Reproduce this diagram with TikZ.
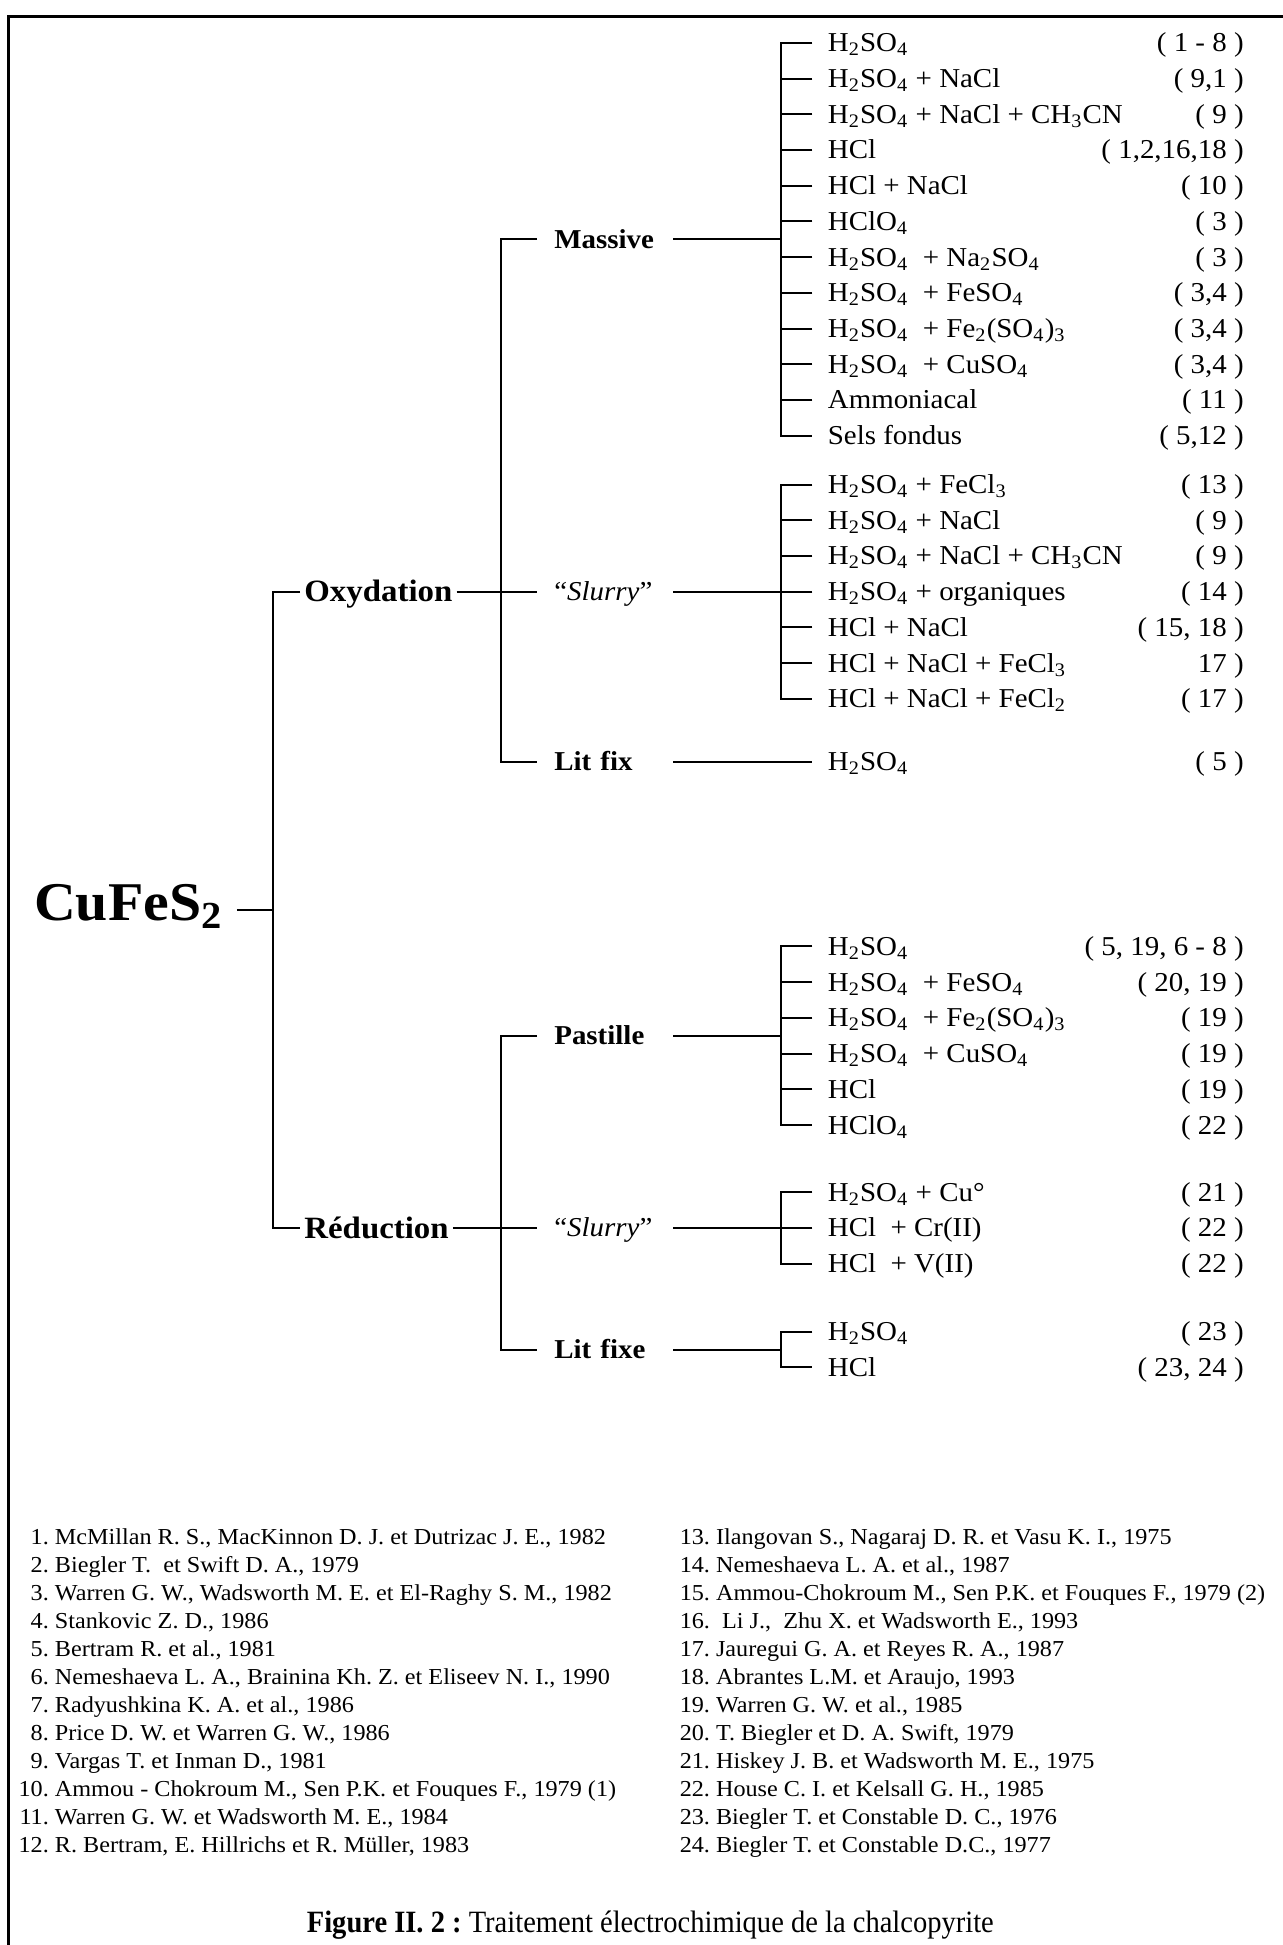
\documentclass[tikz,border=0pt]{standalone}
\usepackage{fontspec}
\setmainfont{Liberation Serif}[FakeStretch=1.06]
\newfontfamily\capfont{Liberation Serif}[FakeStretch=0.92]
\usepackage{tikz}
\usetikzlibrary{positioning}
\newcommand{\indx}[1]{\textsubscript{#1}}
\newcommand{\hso}{H\indx{2}SO\indx{4}}
\newcommand{\fnum}[1]{\makebox[12.5pt][r]{#1.}\ }
\frenchspacing

\begin{document}
\begin{tikzpicture}[x=0.5pt,y=-0.5pt,node distance=14.4pt,
    tree/.style={line width=0.8pt},
    frame/.style={line width=1.2pt},
    root/.style={anchor=east,inner xsep=5.5pt,inner ysep=0pt,text height=8pt,
      text depth=0pt,font=\fontsize{22}{26}\selectfont\bfseries},
    main node/.style={anchor=west,inner xsep=1.5pt,inner ysep=0pt,text height=8.2pt,
      text depth=0pt,font=\fontsize{12.5}{15}\selectfont\bfseries},
    sub node/.style={anchor=west,inner xsep=6.75pt,inner ysep=0pt,text width=41pt,
      align=left,text height=7.2pt,text depth=0pt,font=\fontsize{11}{13}\selectfont\bfseries},
    row/.style={anchor=west,inner xsep=6pt,inner ysep=0pt,text height=7.2pt,
      text depth=0pt,font=\fontsize{11}{13}\selectfont},
    refn/.style={row,anchor=east,inner xsep=0pt},
    nextrow/.style={below=of #1.west,anchor=west},
    fn/.style={anchor=base west,inner sep=0pt,font=\fontsize{9.2}{11}\selectfont},
    nextfn/.style={below=11.3pt of #1.base west,anchor=base west}
    ]
  \useasboundingbox (0,0) rectangle (1034,1568);
  \draw[frame] (1034,13) -- (6.5,13) -- (6.5,1568);

  % tree
  \node[root] (cu) at (191,734) {CuFeS\indx{2}};
  \coordinate (trunk) at (220,734);
  \node[main node] (ox) at (242,477) {Oxydation};
  \node[main node] (red) at (242,990) {Réduction};

  \coordinate (b1) at (404,477);
  \coordinate (b2) at (404,990);
  \node[sub node] (mas) at (433,193) {Massive};
  \node[sub node] (sl1) at (433,477) {\mdseries “\textit{Slurry}”};
  \node[sub node] (lit1) at (433,614) {Lit fix};
  \node[sub node] (pas) at (433,835) {Pastille};
  \node[sub node] (sl2) at (433,990) {\mdseries “\textit{Slurry}”};
  \node[sub node] (lit2) at (433,1088) {Lit fixe};

  \coordinate (mb) at (630,193);
  \coordinate (sb1) at (630,477);
  \coordinate (pb) at (630,835);
  \coordinate (sb2) at (630,990);
  \coordinate (lb) at (630,1088);
  \coordinate (rx) at (1003,0);

  % Massive
  \node[row] (m1) at (655,34.5) {\hso};
  \node[row,nextrow=m1] (m2) {\hso{} + NaCl};
  \node[row,nextrow=m2] (m3) {\hso{} + NaCl + CH\indx{3}CN};
  \node[row,nextrow=m3] (m4) {HCl};
  \node[row,nextrow=m4] (m5) {HCl + NaCl};
  \node[row,nextrow=m5] (m6) {HClO\indx{4}};
  \node[row,nextrow=m6] (m7) {\hso\ \ + Na\indx{2}SO\indx{4}};
  \node[row,nextrow=m7] (m8) {\hso\ \ + FeSO\indx{4}};
  \node[row,nextrow=m8] (m9) {\hso\ \ + Fe\indx{2}(SO\indx{4})\indx{3}};
  \node[row,nextrow=m9] (m10) {\hso\ \ + CuSO\indx{4}};
  \node[row,nextrow=m10] (m11) {Ammoniacal};
  \node[row,nextrow=m11] (m12) {Sels fondus};
  \node[refn] (rm1) at (m1 -| rx) {( 1 - 8 )};
  \node[refn] (rm2) at (m2 -| rx) {( 9,1 )};
  \node[refn] (rm3) at (m3 -| rx) {( 9 )};
  \node[refn] (rm4) at (m4 -| rx) {( 1,2,16,18 )};
  \node[refn] (rm5) at (m5 -| rx) {( 10 )};
  \node[refn] (rm6) at (m6 -| rx) {( 3 )};
  \node[refn] (rm7) at (m7 -| rx) {( 3 )};
  \node[refn] (rm8) at (m8 -| rx) {( 3,4 )};
  \node[refn] (rm9) at (m9 -| rx) {( 3,4 )};
  \node[refn] (rm10) at (m10 -| rx) {( 3,4 )};
  \node[refn] (rm11) at (m11 -| rx) {( 11 )};
  \node[refn] (rm12) at (m12 -| rx) {( 5,12 )};

  % Slurry (oxydation)
  \node[row] (s1) at (655,390.6) {\hso{} + FeCl\indx{3}};
  \node[row,nextrow=s1] (s2) {\hso{} + NaCl};
  \node[row,nextrow=s2] (s3) {\hso{} + NaCl + CH\indx{3}CN};
  \node[row,nextrow=s3] (s4) {\hso{} + organiques};
  \node[row,nextrow=s4] (s5) {HCl + NaCl};
  \node[row,nextrow=s5] (s6) {HCl + NaCl + FeCl\indx{3}};
  \node[row,nextrow=s6] (s7) {HCl + NaCl + FeCl\indx{2}};
  \node[refn] (rs1) at (s1 -| rx) {( 13 )};
  \node[refn] (rs2) at (s2 -| rx) {( 9 )};
  \node[refn] (rs3) at (s3 -| rx) {( 9 )};
  \node[refn] (rs4) at (s4 -| rx) {( 14 )};
  \node[refn] (rs5) at (s5 -| rx) {( 15, 18 )};
  \node[refn] (rs6) at (s6 -| rx) {17 )};
  \node[refn] (rs7) at (s7 -| rx) {( 17 )};

  % Lit fix
  \node[row] (l1) at (655,614) {\hso};
  \node[refn] (rl1) at (l1 -| rx) {( 5 )};

  % Pastille
  \node[row] (p1) at (655,763) {\hso};
  \node[row,nextrow=p1] (p2) {\hso\ \ + FeSO\indx{4}};
  \node[row,nextrow=p2] (p3) {\hso\ \ + Fe\indx{2}(SO\indx{4})\indx{3}};
  \node[row,nextrow=p3] (p4) {\hso\ \ + CuSO\indx{4}};
  \node[row,nextrow=p4] (p5) {HCl};
  \node[row,nextrow=p5] (p6) {HClO\indx{4}};
  \node[refn] (rp1) at (p1 -| rx) {( 5, 19, 6 - 8 )};
  \node[refn] (rp2) at (p2 -| rx) {( 20, 19 )};
  \node[refn] (rp3) at (p3 -| rx) {( 19 )};
  \node[refn] (rp4) at (p4 -| rx) {( 19 )};
  \node[refn] (rp5) at (p5 -| rx) {( 19 )};
  \node[refn] (rp6) at (p6 -| rx) {( 22 )};

  % Slurry (reduction)
  \node[row] (q1) at (655,961.2) {\hso{} + Cu°};
  \node[row,nextrow=q1] (q2) {HCl\ \ + Cr(II)};
  \node[row,nextrow=q2] (q3) {HCl\ \ + V(II)};
  \node[refn] (rq1) at (q1 -| rx) {( 21 )};
  \node[refn] (rq2) at (q2 -| rx) {( 22 )};
  \node[refn] (rq3) at (q3 -| rx) {( 22 )};

  % Lit fixe
  \node[row] (x1) at (655,1073.6) {\hso};
  \node[row,nextrow=x1] (x2) {HCl};
  \node[refn] (rx1) at (x1 -| rx) {( 23 )};
  \node[refn] (rx2) at (x2 -| rx) {( 23, 24 )};

  % connectors
  \draw[tree] (cu) -- (trunk);
  \draw[tree] (ox.west) -| (trunk) |- (red.west);
  \draw[tree] (ox) -- (sl1);
  \draw[tree] (red) -- (sl2);
  \draw[tree] (mas.west) -| (b1) |- (lit1.west);
  \draw[tree] (pas.west) -| (b2) |- (lit2.west);
  \draw[tree] (lit1) -- (l1);
  \draw[tree] (mas) -- (mb);
  \draw[tree] (sl1) -- (sb1);
  \draw[tree] (pas) -- (pb);
  \draw[tree] (sl2) -- (sb2);
  \draw[tree] (lit2) -- (lb);
  \draw[tree] (m1.west) -| (mb) |- (m12.west);
  \draw[tree] (s1.west) -| (sb1) |- (s7.west);
  \draw[tree] (p1.west) -| (pb) |- (p6.west);
  \draw[tree] (q1.west) -| (sb2) |- (q3.west);
  \draw[tree] (x1.west) -| (lb) |- (x2.west);
  \path[tree]
    (m2.west) edge (m2.west -| mb)
    (m3.west) edge (m3.west -| mb)
    (m4.west) edge (m4.west -| mb)
    (m5.west) edge (m5.west -| mb)
    (m6.west) edge (m6.west -| mb)
    (m7.west) edge (m7.west -| mb)
    (m8.west) edge (m8.west -| mb)
    (m9.west) edge (m9.west -| mb)
    (m10.west) edge (m10.west -| mb)
    (m11.west) edge (m11.west -| mb)
    (s2.west) edge (s2.west -| sb1)
    (s3.west) edge (s3.west -| sb1)
    (s4.west) edge (s4.west -| sb1)
    (s5.west) edge (s5.west -| sb1)
    (s6.west) edge (s6.west -| sb1)
    (p2.west) edge (p2.west -| pb)
    (p3.west) edge (p3.west -| pb)
    (p4.west) edge (p4.west -| pb)
    (p5.west) edge (p5.west -| pb)
    (q2.west) edge (q2.west -| sb2);

  % references
  \node[fn] (f1) at (14,1245) {\fnum{1}McMillan R. S., MacKinnon D. J. et Dutrizac J. E., 1982};
  \node[fn,nextfn=f1] (f2) {\fnum{2}Biegler T.\ \ et Swift D. A., 1979};
  \node[fn,nextfn=f2] (f3) {\fnum{3}Warren G. W., Wadsworth M. E. et El-Raghy S. M., 1982};
  \node[fn,nextfn=f3] (f4) {\fnum{4}Stankovic Z. D., 1986};
  \node[fn,nextfn=f4] (f5) {\fnum{5}Bertram R. et al., 1981};
  \node[fn,nextfn=f5] (f6) {\fnum{6}Nemeshaeva L. A., Brainina Kh. Z. et Eliseev N. I., 1990};
  \node[fn,nextfn=f6] (f7) {\fnum{7}Radyushkina K. A. et al., 1986};
  \node[fn,nextfn=f7] (f8) {\fnum{8}Price D. W. et Warren G. W., 1986};
  \node[fn,nextfn=f8] (f9) {\fnum{9}Vargas T. et Inman D., 1981};
  \node[fn,nextfn=f9] (f10) {\fnum{10}Ammou - Chokroum M., Sen P.K. et Fouques F., 1979 (1)};
  \node[fn,nextfn=f10] (f11) {\fnum{11}Warren G. W. et Wadsworth M. E., 1984};
  \node[fn,nextfn=f11] (f12) {\fnum{12}R. Bertram, E. Hillrichs et R. Müller, 1983};
  \node[fn] (f13) at (547,1245) {\fnum{13}Ilangovan S., Nagaraj D. R. et Vasu K. I., 1975};
  \node[fn,nextfn=f13] (f14) {\fnum{14}Nemeshaeva L. A. et al., 1987};
  \node[fn,nextfn=f14] (f15) {\fnum{15}Ammou-Chokroum M., Sen P.K. et Fouques F., 1979 (2)};
  \node[fn,nextfn=f15] (f16) {\fnum{16}\ Li J.,\ \ Zhu X. et Wadsworth E., 1993};
  \node[fn,nextfn=f16] (f17) {\fnum{17}Jauregui G. A. et Reyes R. A., 1987};
  \node[fn,nextfn=f17] (f18) {\fnum{18}Abrantes L.M. et Araujo, 1993};
  \node[fn,nextfn=f18] (f19) {\fnum{19}Warren G. W. et al., 1985};
  \node[fn,nextfn=f19] (f20) {\fnum{20}T. Biegler et D. A. Swift, 1979};
  \node[fn,nextfn=f20] (f21) {\fnum{21}Hiskey J. B. et Wadsworth M. E., 1975};
  \node[fn,nextfn=f21] (f22) {\fnum{22}House C. I. et Kelsall G. H., 1985};
  \node[fn,nextfn=f22] (f23) {\fnum{23}Biegler T. et Constable D. C., 1976};
  \node[fn,nextfn=f23] (f24) {\fnum{24}Biegler T. et Constable D.C., 1977};

  \node[anchor=base west,inner sep=0pt,font=\capfont\fontsize{12.5}{15}\selectfont] (cap)
    at (247,1558) {\textbf{Figure II. 2 :} Traitement électrochimique de la chalcopyrite};
\end{tikzpicture}
\end{document}
